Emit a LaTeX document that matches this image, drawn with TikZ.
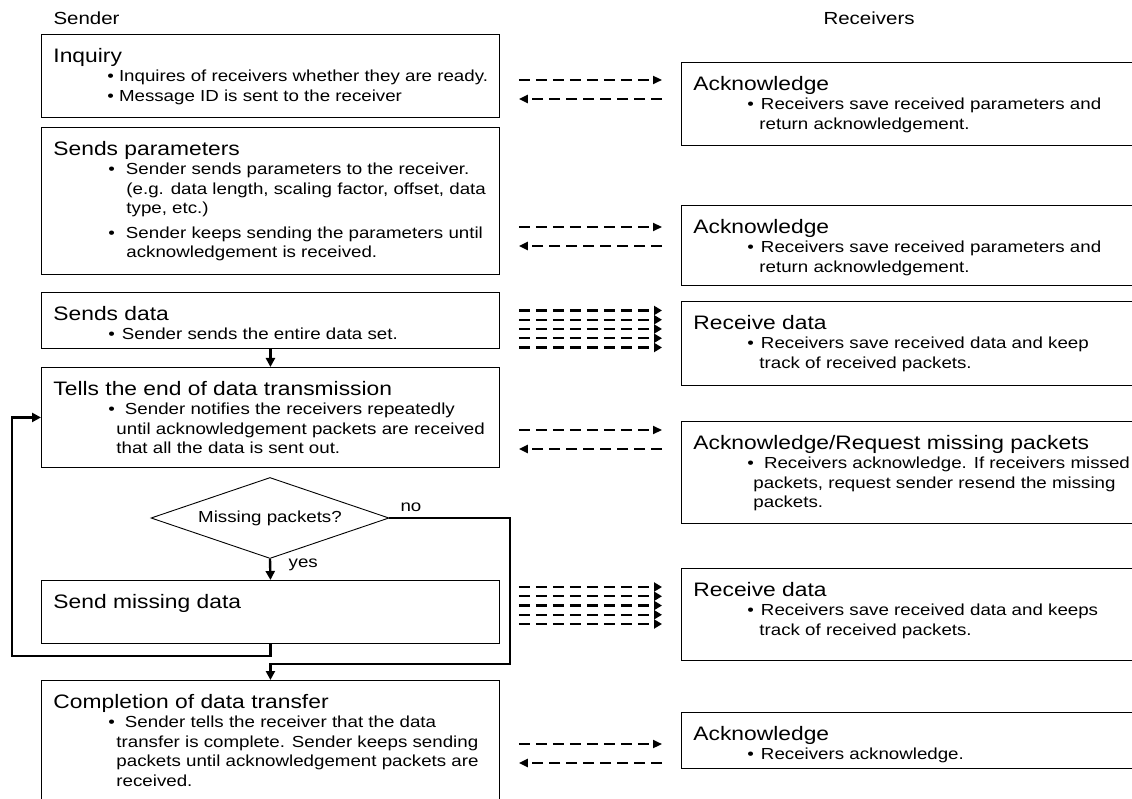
\documentclass[tikz,border=0pt]{standalone}
\usepackage{fontspec}
\setmainfont{Liberation Sans}[FakeStretch=1.17]
\usetikzlibrary{arrows.meta,calc,positioning,shapes.geometric}

\newcommand{\ttlfont}{\fontsize{19.5pt}{19.5pt}\selectfont}
\newcommand{\txtfont}{\fontsize{16pt}{19.5pt}\selectfont}
% box body: width, height, title, lines
\newcommand{\stagetext}[4]{\parbox[t][#2pt][t]{#1pt}{\txtfont
  \rule{0pt}{28pt}\hspace*{12pt}{\ttlfont #3}\par #4}}
\newcommand{\bitem}[3][7pt]{\hspace*{#2pt}\textbullet\hspace{#1}#3\par}
\newcommand{\bcont}[2]{\hspace*{#1pt}#2\par}

\tikzset{
  stage/.style={draw,line width=0.9pt,inner sep=0pt,anchor=north west},
  choice/.style={diamond,draw,line width=0.9pt,aspect=2.94,inner sep=0pt,
    minimum width=238pt,minimum height=81pt,font=\txtfont},
  msg/.style={line width=2.2pt,dash pattern=on 11pt off 6pt,
    -{Triangle[length=9pt,width=8pt]},shorten <=19pt,shorten >=19pt},
  bulk/.style={msg,-{Triangle[length=8pt,width=9pt]}},
  flow/.style={line width=2.4pt,-{Triangle[length=9pt,width=9pt]}},
  side/.style={font=\fontsize{17.5pt}{17.5pt}\selectfont,anchor=west}
}

\begin{document}
\begin{tikzpicture}[x=1pt,y=-1pt]
\useasboundingbox (0,0) rectangle (1132,799);

\node[side] (sender) at (50,18) {Sender};
\node[side] (recv) at (820,18) {Receivers};

% sender side
\node[stage] (inq) at (41,34) {\stagetext{458}{83}{Inquiry}{
  \bitem[5pt]{66}{Inquires of receivers whether they are ready.}
  \bitem[5pt]{66}{Message ID is sent to the receiver}}};
\node[stage] (par) at (41,127) {\stagetext{458}{147}{Sends parameters}{
  \bitem[11pt]{67}{Sender sends parameters to the receiver.}
  \bcont{85}{(e.g. data length, scaling factor, offset, data}
  \bcont{85}{type, etc.)}\vspace{5pt}
  \bitem[11pt]{67}{Sender keeps sending the parameters until}
  \bcont{85}{acknowledgement is received.}}};
\node[stage] (snd) at (41,292) {\stagetext{458}{56}{Sends data}{
  \bitem{67}{Sender sends the entire data set.}}};
\node[stage] (tell) at (41,367) {\stagetext{458}{100}{Tells the end of data transmission}{
  \bitem[10pt]{67}{Sender notifies the receivers repeatedly}
  \bcont{75}{until acknowledgement packets are received}
  \bcont{75}{that all the data is sent out.}}};
\node[choice] (miss) at (270,518) {Missing packets?};
\node[stage] (resend) at (41,580) {\stagetext{458}{63}{Send missing data}{}};
\node[stage] (done) at (41,680) {\stagetext{458}{125}{Completion of data transfer}{
  \bitem[10pt]{67}{Sender tells the receiver that the data}
  \bcont{75}{transfer is complete. Sender keeps sending}
  \bcont{75}{packets until acknowledgement packets are}
  \bcont{75}{received.}}};

% receiver side
\node[stage] (ack1) at (681,62) {\stagetext{458}{83}{Acknowledge}{
  \bitem{66}{Receivers save received parameters and}
  \bcont{78}{return acknowledgement.}}};
\node[stage] (ack2) at (681,205) {\stagetext{458}{80}{Acknowledge}{
  \bitem{66}{Receivers save received parameters and}
  \bcont{78}{return acknowledgement.}}};
\node[stage] (rcv1) at (681,301) {\stagetext{458}{84}{Receive data}{
  \bitem{66}{Receivers save received data and keep}
  \bcont{78}{track of received packets.}}};
\node[stage] (req) at (681,421) {\stagetext{458}{102}{Acknowledge/Request missing packets}{
  \bitem[10pt]{66}{Receivers acknowledge. If receivers missed}
  \bcont{72}{packets, request sender resend the missing}
  \bcont{72}{packets.}}};
\node[stage] (rcv2) at (681,568) {\stagetext{458}{92}{Receive data}{
  \bitem{66}{Receivers save received data and keeps}
  \bcont{78}{track of received packets.}}};
\node[stage] (ack3) at (681,712) {\stagetext{458}{56}{Acknowledge}{
  \bitem{66}{Receivers acknowledge.}}};

% message rows
\coordinate (m1) at (0,80);  \coordinate (m1b) at (0,99);
\coordinate (m2) at (0,227); \coordinate (m2b) at (0,246);
\coordinate (m4) at (0,430); \coordinate (m4b) at (0,449);
\coordinate (m6) at (0,744); \coordinate (m6b) at (0,763);
\coordinate (d1) at (0,310.5);
\coordinate (d2) at (0,587);

\draw[msg] (inq.east |- m1) -- (ack1.west |- m1);
\draw[msg] (ack1.west |- m1b) -- (inq.east |- m1b);
\draw[msg] (par.east |- m2) -- (ack2.west |- m2);
\draw[msg] (ack2.west |- m2b) -- (par.east |- m2b);
\draw[msg] (tell.east |- m4) -- (req.west |- m4);
\draw[msg] (req.west |- m4b) -- (tell.east |- m4b);
\draw[msg] (done.east |- m6) -- (ack3.west |- m6);
\draw[msg] (ack3.west |- m6b) -- (done.east |- m6b);
\foreach \k in {0,...,4}{
  \draw[bulk] ($(snd.east |- d1)+(0,\k*9.25)$) -- ($(rcv1.west |- d1)+(0,\k*9.25)$);
  \draw[bulk] ($(resend.east |- d2)+(0,\k*9.25)$) -- ($(rcv2.west |- d2)+(0,\k*9.25)$);
}

% sender flow
\coordinate (nojoin) at (510,664);
\coordinate (back) at (12,656);
\draw[flow] (snd.south) -- (tell.north);
\draw[flow] (miss.south) -- node[right=14pt,font=\txtfont,pos=0.3]{yes} (resend.north);
\draw[flow] (miss.east) -| (nojoin) -| (done.north);
\node[font=\txtfont,anchor=base west] (nolbl) at (397,511) {no};
\draw[flow] (resend.south) |- (back) |- (tell.west);
\end{tikzpicture}
\end{document}
